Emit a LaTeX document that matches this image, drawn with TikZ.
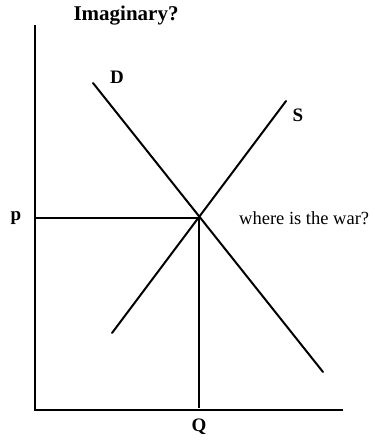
\documentclass[tikz,border=0pt]{standalone}
\usepackage{fontspec}
\setmainfont{Liberation Serif}
\begin{document}
\begin{tikzpicture}[x=1bp,y=1bp,
		curve/.style={line width=2bp, line cap=round},
		axis/.style={line width=2bp},
		lbl/.style={font=\fontsize{19bp}{22bp}\selectfont\bfseries, inner sep=0pt}]
			
			\useasboundingbox (0,0) rectangle (374,443);
			
			% axes
			\coordinate (origin) at (35,33);
			\coordinate (ytop) at (35,418);
			\coordinate (xend) at (343,33);
			\draw[axis] (ytop) -- (origin) -- (xend);
			\node[lbl, font=\fontsize{21bp}{24bp}\selectfont\bfseries] (title) at (126,427) {Imaginary?};
			
			% demand and supply
			\coordinate (dtop) at (93,360);
			\coordinate (dbot) at (323,71);
			\coordinate (sbot) at (112,110);
			\coordinate (stop) at (286,342);
			\draw[curve] (dtop) -- (dbot);
			\draw[curve] (sbot) -- (stop);
			\node[lbl] (dlabel) at (117,366) {D};
			\node[lbl] (slabel) at (298,328) {S};
			
			% equilibrium
			\coordinate (eq) at (199,225);
			\coordinate (peq) at (35,225);
			\coordinate (qeq) at (199,35);
			\draw[axis] (peq) -- (eq) -- (qeq);
			\node[lbl] (plabel) at (16,225) {p};
			\node[lbl] (qlabel) at (199,16) {Q};
			\node[anchor=west, inner sep=0pt, font=\fontsize{18.5bp}{21bp}\selectfont] (war) at (239,225) {where is the war?};
			
		\end{tikzpicture}
\end{document}
